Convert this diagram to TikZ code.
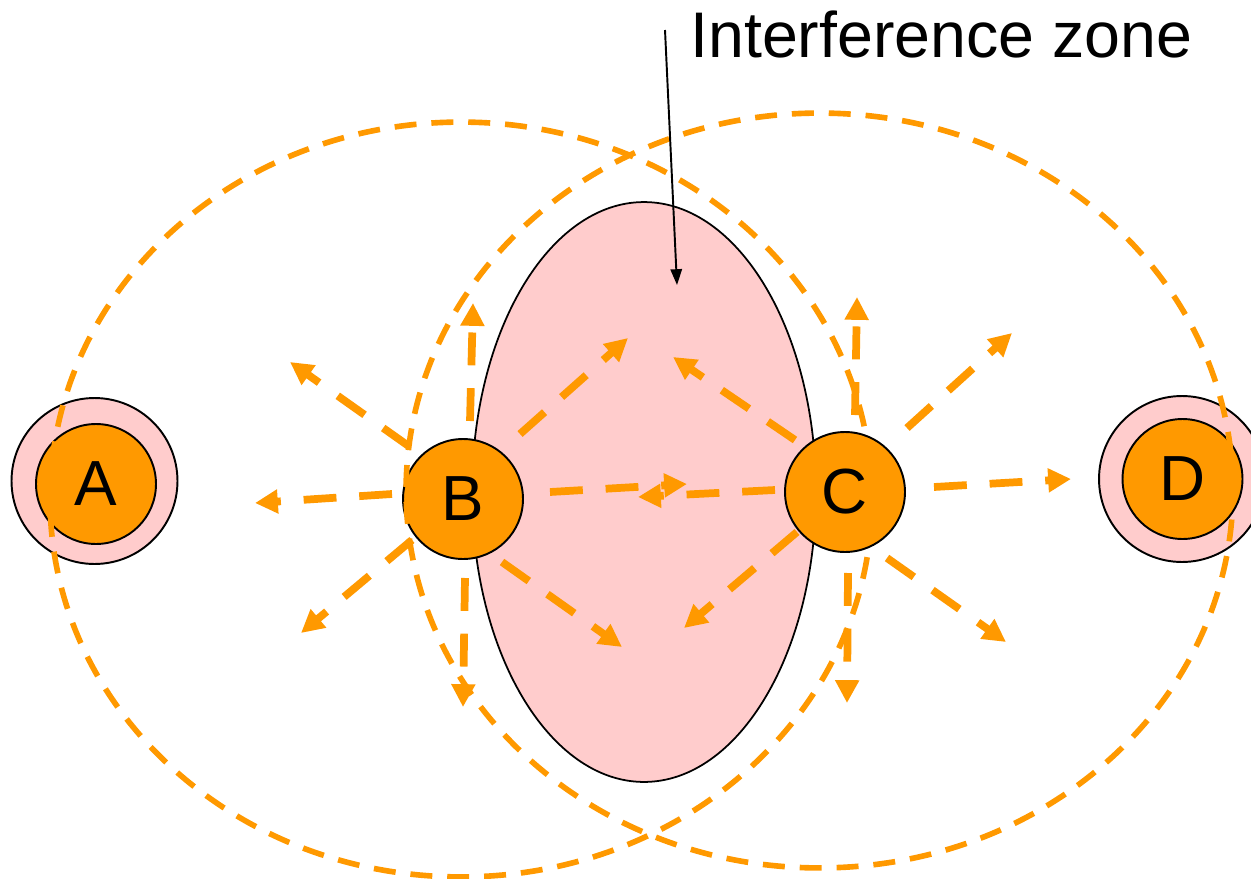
\documentclass[tikz,border=0pt]{standalone}
\usepackage{fontspec}
\setmainfont{Liberation Sans}
\usetikzlibrary{arrows.meta,shapes.geometric}
\definecolor{orng}{HTML}{FF9900}
\definecolor{pnk}{HTML}{FFCCCC}
\begin{document}
\begin{tikzpicture}[x=0.02cm,y=-0.02cm,
  zone/.style={ellipse, draw=black, line width=1pt, fill=pnk, minimum width=6.88cm, minimum height=11.6cm, inner sep=0pt, outer sep=0pt},
  station/.style={circle, draw=black, line width=1.1pt, fill=orng, minimum size=2.4cm, inner sep=0pt, outer sep=0pt, font=\fontsize{36.3}{38}\selectfont},
  halo/.style={circle, draw=black, line width=1.1pt, fill=pnk, minimum size=3.32cm, inner sep=0pt, outer sep=0pt},
  txrange/.style={draw=orng, line width=3.2pt, dash pattern=on 12.5pt off 8.5pt},
  signal/.style={draw=orng, line width=4.4pt, dash pattern=on 18.7pt off 13pt, -{Triangle[length=13pt,width=13pt]}},
  pointer/.style={draw=black, line width=1.1pt, -{Triangle[length=9pt,width=6.5pt]}}
]
\useasboundingbox[fill=white] (0,0) rectangle (1251,879);

% interference zone
\node[zone] (zone) at (644,492) {};

% signal arrows from B
\coordinate (b1s) at (410,447); \coordinate (b1e) at (290,362);
\coordinate (b2s) at (392,494); \coordinate (b2e) at (255,503);
\coordinate (b3s) at (412,540); \coordinate (b3e) at (301,633);
\coordinate (b4s) at (470,421); \coordinate (b4e) at (473,303);
\coordinate (b5s) at (465,578); \coordinate (b5e) at (463,707);
\coordinate (b6s) at (520,434); \coordinate (b6e) at (628,338);
\coordinate (b7s) at (550,492); \coordinate (b7e) at (687,484);
\coordinate (b8s) at (502,562); \coordinate (b8e) at (622,647);
% signal arrows from C
\coordinate (c1s) at (775,490); \coordinate (c1e) at (638,497);
\coordinate (c2s) at (795,440); \coordinate (c2e) at (673,357);
\coordinate (c3s) at (797,532); \coordinate (c3e) at (684,628);
\coordinate (c4s) at (855,415); \coordinate (c4e) at (857,297);
\coordinate (c5s) at (848,573); \coordinate (c5e) at (847,703);
\coordinate (c6s) at (907,428); \coordinate (c6e) at (1012,333);
\coordinate (c7s) at (934,487); \coordinate (c7e) at (1071,479);
\coordinate (c8s) at (887,558); \coordinate (c8e) at (1006,642);

\foreach \s in {b1,b2,b3,b4,b5,b6,b7,b8,c1,c2,c3,c4,c5,c6,c7,c8}
  \draw[signal] (\s s) -- (\s e);

% stations
\node[halo] (Ahalo) at (94.5,481) {};
\node[station] (A) at (96,484) {A};
\node[station] (B) at (463,499) {B};
\node[station] (C) at (845,492) {C};
\node[halo] (Dhalo) at (1182,479) {};
\node[station] (D) at (1182.5,479) {D};

% transmission ranges
\draw[txrange] (461,499.5) ellipse [x radius=8.22cm, y radius=7.55cm];
\draw[txrange] (819.5,490.5) ellipse [x radius=8.27cm, y radius=7.55cm];

% label
\node[anchor=base west, inner sep=0pt, font=\fontsize{36.7}{40}\selectfont] (title) at (690,57) {Interference zone};
\coordinate (pstart) at (665,30);
\coordinate (pend) at (677,285);
\draw[pointer] (pstart) -- (pend);
\end{tikzpicture}
\end{document}
